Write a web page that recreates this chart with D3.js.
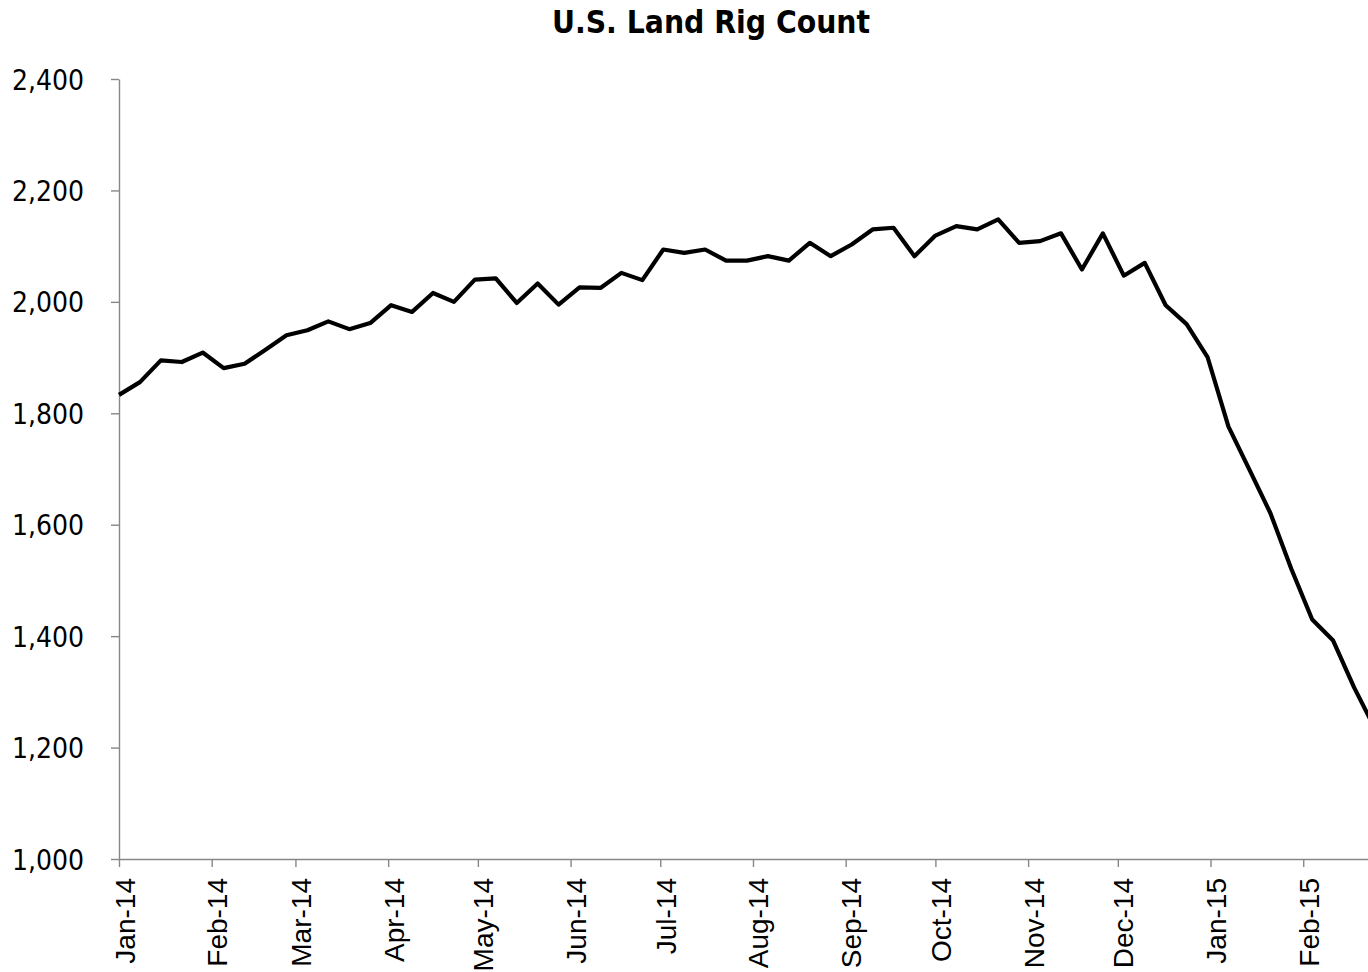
<!DOCTYPE html>
<html>
<head>
<meta charset="utf-8">
<script src="https://cdn.jsdelivr.net/npm/d3@7"></script>
<style>
  body { margin: 0; background: #fff; }
  svg { display: block; }
  .title { font-family: "DejaVu Sans Condensed", "DejaVu Sans", sans-serif; font-stretch: condensed; font-weight: bold; font-size: 31.5px; }
  .y-axis text { font-family: "DejaVu Sans Condensed", "DejaVu Sans", sans-serif; font-stretch: condensed; font-size: 28px; fill: #000; }
  .x-axis text { font-family: "Liberation Sans", Arial, sans-serif; font-size: 28px; fill: #000; }
  .axis path, .axis line { stroke: #878787; stroke-width: 1.4; }
</style>
</head>
<body>
<div id="chart"></div>
<script>
// weekly rig count readings (Fridays)
const weekDates = [
  "2014-01-03","2014-01-10","2014-01-17","2014-01-24","2014-01-31",
  "2014-02-07","2014-02-14","2014-02-21","2014-02-28",
  "2014-03-07","2014-03-14","2014-03-21","2014-03-28",
  "2014-04-04","2014-04-11","2014-04-18","2014-04-25",
  "2014-05-02","2014-05-09","2014-05-16","2014-05-23","2014-05-30",
  "2014-06-06","2014-06-13","2014-06-20","2014-06-27",
  "2014-07-04","2014-07-11","2014-07-18","2014-07-25",
  "2014-08-01","2014-08-08","2014-08-15","2014-08-22","2014-08-29",
  "2014-09-05","2014-09-12","2014-09-19","2014-09-26",
  "2014-10-03","2014-10-10","2014-10-17","2014-10-24","2014-10-31",
  "2014-11-07","2014-11-14","2014-11-21","2014-11-28",
  "2014-12-05","2014-12-12","2014-12-19","2014-12-26",
  "2015-01-02","2015-01-09","2015-01-16","2015-01-23","2015-01-30",
  "2015-02-06","2015-02-13","2015-02-20","2015-02-27"
];

const rigCount = [
  1833, 1856, 1895, 1892, 1909,
  1881, 1889, 1914, 1940,
  1949, 1965, 1951, 1962,
  1994, 1982, 2016, 2000,
  2040, 2042, 1998, 2033, 1995,
  2026, 2025, 2052, 2039,
  2094, 2088, 2094, 2074,
  2074, 2082, 2074, 2106, 2082,
  2103, 2130, 2133, 2082,
  2119, 2136, 2130, 2148, 2106,
  2109, 2123, 2058, 2123,
  2047, 2070, 1994, 1960,
  1901, 1776, 1699, 1621, 1521,
  1430, 1392, 1308, 1234
];

const xTickDates = [
  "2014-01-03","2014-02-03","2014-03-03","2014-04-03","2014-05-03","2014-06-03","2014-07-03",
  "2014-08-03","2014-09-03","2014-10-03","2014-11-03","2014-12-03","2015-01-03","2015-02-03"
];
const xTickLabels = ["Jan-14","Feb-14","Mar-14","Apr-14","May-14","Jun-14","Jul-14",
  "Aug-14","Sep-14","Oct-14","Nov-14","Dec-14","Jan-15","Feb-15"];
const yTicks = [1000, 1200, 1400, 1600, 1800, 2000, 2200, 2400];

class LineChart {

  constructor(_data) {
    this.width = 1368;
    this.height = 972;
    // plot area runs a little past the right edge, as in the cropped original
    this.plot = {left: 119, right: 1375, top: 79, bottom: 859};
    this.data = _data;
    this.initVis();
  }

  initVis() {
    let vis = this;
    const parse = d3.timeParse("%Y-%m-%d");

    vis.svg = d3.select("#chart")
      .append("svg")
        .attr("width", vis.width)
        .attr("height", vis.height);

    vis.xScale = d3.scaleTime()
      .domain([parse(weekDates[0]), parse(weekDates[weekDates.length - 1])])
      .range([vis.plot.left, vis.plot.right]);

    vis.yScale = d3.scaleLinear()
      .domain([1000, 2400])
      .range([vis.plot.bottom, vis.plot.top]);

    vis.xAxis = d3.axisBottom(vis.xScale)
      .tickValues(xTickDates.map(parse))
      .tickFormat((d, i) => xTickLabels[i])
      .tickSize(8)
      .tickSizeOuter(0);

    vis.yAxis = d3.axisLeft(vis.yScale)
      .tickValues(yTicks)
      .tickFormat(d3.format(","))
      .tickSize(8)
      .tickPadding(27)
      .tickSizeOuter(0);

    vis.xAxisG = vis.svg.append("g")
      .attr("class", "axis x-axis")
      .attr("transform", "translate(0," + vis.plot.bottom + ")");

    vis.yAxisG = vis.svg.append("g")
      .attr("class", "axis y-axis")
      .attr("transform", "translate(" + vis.plot.left + ",0)");

    vis.svg.append("text")
      .attr("class", "title")
      .attr("x", 711)
      .attr("y", 33)
      .attr("text-anchor", "middle")
      .text("U.S. Land Rig Count");

    vis.line = d3.line()
      .x(d => vis.xScale(d.date))
      .y(d => vis.yScale(d.value));

    vis.renderVis();
  }

  renderVis() {
    let vis = this;

    vis.xAxisG.call(vis.xAxis);
    vis.xAxisG.selectAll(".tick text")
      .attr("transform", "rotate(-90)")
      .attr("text-anchor", "end")
      .attr("x", -19)
      .attr("y", 15)
      .attr("dy", 0);

    vis.yAxisG.call(vis.yAxis);
    vis.yAxisG.selectAll(".tick text").attr("dy", "0.36em");

    vis.svg.append("path")
      .datum(vis.data)
      .attr("fill", "none")
      .attr("stroke", "#000")
      .attr("stroke-width", 4.2)
      .attr("stroke-linejoin", "round")
      .attr("d", vis.line);
  }
}

const parseDate = d3.timeParse("%Y-%m-%d");
const rigData = weekDates.map((d, i) => ({date: parseDate(d), value: rigCount[i]}));
new LineChart(rigData);
</script>
</body>
</html>
